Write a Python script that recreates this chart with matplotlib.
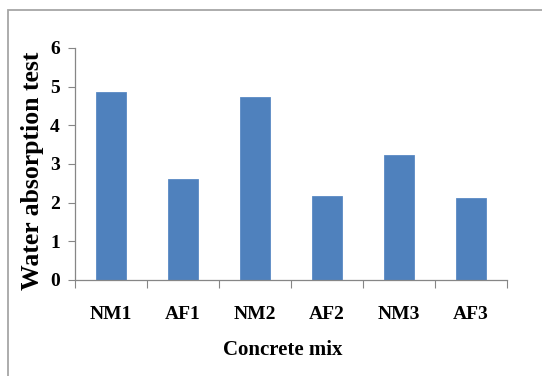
import matplotlib
matplotlib.use("Agg")
import matplotlib.pyplot as plt
from matplotlib.patches import Rectangle
from matplotlib.ticker import FixedLocator, NullFormatter

# Data
mixes = ["NM1", "AF1", "NM2", "AF2", "NM3", "AF3"]
absorption = [4.86, 2.60, 4.74, 2.17, 3.24, 2.13]
y_ticks = [0, 1, 2, 3, 4, 5, 6]

W, H = 542, 376
fig = plt.figure(figsize=(W / 100, H / 100), dpi=100)
fig.patch.set_facecolor("white")

# Outer frame (left and top edges visible)
fig.patches.append(Rectangle((7.5 / W, -0.1), 1.2, 1 - 10 / H + 0.1,
                             transform=fig.transFigure, fill=False,
                             edgecolor="#a6a6a6", linewidth=1.3))

ax = fig.add_axes([75 / W, 1 - 280 / H, 432 / W, 232 / H])

x = list(range(len(mixes)))
ax.bar(x, absorption, width=0.41, color="#4F81BD", edgecolor="#5a8ac4",
       linewidth=0.6, zorder=2)

ax.set_xlim(-0.5, len(mixes) - 0.5)
ax.set_ylim(0, 6)

serif = {"family": "Liberation Serif", "weight": "bold"}

# y axis
ax.set_yticks(y_ticks)
ax.set_yticklabels([str(v) for v in y_ticks], fontdict={**serif, "size": 14})
ax.tick_params(axis="y", direction="out", length=5, width=0.8,
               color="#868686", pad=6)

# x axis: ticks at category boundaries, labels at centres
ax.xaxis.set_major_locator(FixedLocator([i - 0.5 for i in range(len(mixes) + 1)]))
ax.xaxis.set_major_formatter(NullFormatter())
ax.xaxis.set_minor_locator(FixedLocator(x))
ax.set_xticklabels(mixes, minor=True, fontdict={**serif, "size": 14})
ax.tick_params(axis="x", which="minor", length=0, pad=19)
ax.tick_params(axis="x", which="major", direction="out", length=6, width=0.8,
               color="#868686")

for side in ("top", "right"):
    ax.spines[side].set_visible(False)
for side in ("left", "bottom"):
    ax.spines[side].set_color("#868686")
    ax.spines[side].set_linewidth(0.9)

fig.text(283 / W, 1 - 350 / H, "Concrete mix", ha="center", va="center",
         fontdict={**serif, "size": 15})
fig.text(33 / W, 1 - 171 / H, "Water absorption test", ha="center",
         va="center", rotation=90, fontdict={**serif, "size": 18.5})

fig.savefig("out.png", dpi=100, facecolor="white")
